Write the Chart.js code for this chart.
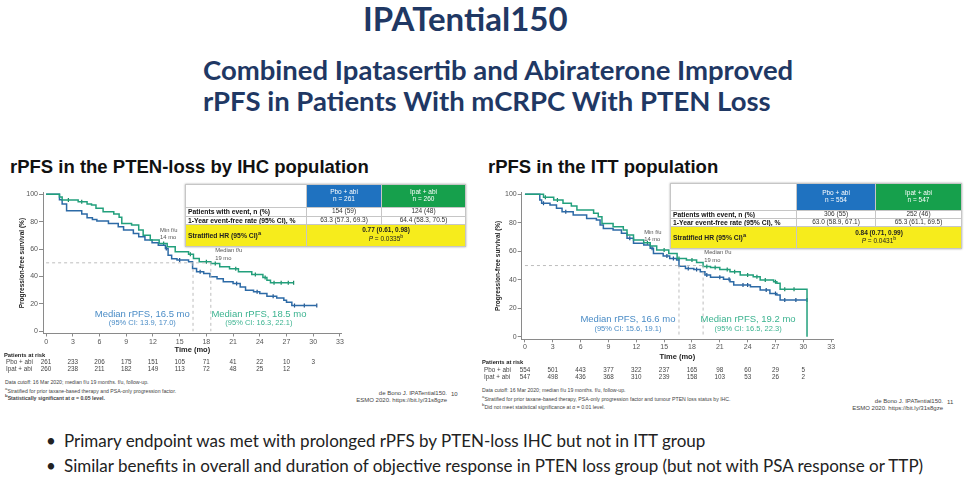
<!DOCTYPE html>
<html>
<head>
<meta charset="utf-8">
<script src="https://cdn.jsdelivr.net/npm/chart.js@4/dist/chart.umd.min.js"></script>
<style>
  body { margin: 0; width: 974px; height: 481px; background: #fff; position: relative; overflow: hidden;
         font-family: 'Liberation Sans', Arial, sans-serif; }
  .abs { position: absolute; white-space: nowrap; }
  .slideTitle { font-family: Lato, 'Open Sans', sans-serif; font-weight: bold; color: #1f3864; }
  .panelTitle { font-weight: bold; font-size: 18.5px; color: #111; }
  .bullet { font-family: Lato, 'Open Sans', sans-serif; font-size: 17px; color: #222; }
  .foot { font-size: 5.2px; color: #444; line-height: 6.5px; }
  .cite { font-size: 6px; color: #444; text-align: right; line-height: 7px; }
  table.km { position: absolute; border-collapse: collapse; table-layout: fixed; background: #fff;
             box-shadow: 0 0 2px rgba(0,0,0,.35); }
  table.km td { border: 1px solid #c6c6c6; padding: 0 2px; font-size: 6.5px; line-height: 1.05; color: #333;
                text-align: center; overflow: hidden; white-space: nowrap; }
  table.km td.lab { text-align: left; font-weight: bold; color: #111; font-size: 6.8px; }
  table.km td.pbo { background: #1f72c0; color: #fff; }
  table.km td.ipat { background: #16a04c; color: #fff; }
  table.km tr.hr td { background: #f6ec1c; color: #222; }
</style>
</head>
<body>
<div class="abs slideTitle" style="left:363px;top:-2px;font-size:33px;">IPATential150</div>
<div class="abs slideTitle" style="left:203px;top:54px;font-size:27.5px;line-height:31px;">Combined Ipatasertib and Abiraterone Improved<br>rPFS in Patients With mCRPC With PTEN Loss</div>

<div class="abs panelTitle" style="left:10px;top:156px;">rPFS in the PTEN-loss by IHC population</div>
<div class="abs panelTitle" style="left:488px;top:156px;">rPFS in the ITT population</div>

<div class="abs" style="left:0;top:186px;width:480px;height:190px;"><canvas id="ptenChart" width="480" height="190"></canvas></div>
<div class="abs" style="left:480px;top:186px;width:494px;height:195px;"><canvas id="ittChart" width="494" height="195"></canvas></div>

<table class="km" style="left:185px;top:184px;width:280px;">
  <colgroup><col style="width:121px"><col style="width:75px"><col style="width:84px"></colgroup>
  <tr style="height:23px"><td></td><td class="pbo">Pbo + abi<br>n = 261</td><td class="ipat">Ipat + abi<br>n = 260</td></tr>
  <tr style="height:8.5px"><td class="lab">Patients with event, n (%)</td><td>154 (59)</td><td>124 (48)</td></tr>
  <tr style="height:8.5px"><td class="lab">1-Year event-free rate (95% CI), %</td><td>63.3 (57.3, 69.3)</td><td>64.4 (58.3, 70.5)</td></tr>
  <tr class="hr" style="height:21.5px"><td class="lab">Stratified HR (95% CI)<sup>a</sup></td><td colspan="2"><b>0.77 (0.61, 0.98)</b><br><i>P</i> = 0.0335<sup>b</sup></td></tr>
</table>
<table class="km" style="left:670px;top:183px;width:291px;">
  <colgroup><col style="width:126px"><col style="width:79px"><col style="width:86px"></colgroup>
  <tr style="height:27px"><td></td><td class="pbo">Pbo + abi<br>n = 554</td><td class="ipat">Ipat + abi<br>n = 547</td></tr>
  <tr style="height:8.3px"><td class="lab">Patients with event, n (%)</td><td>306 (55)</td><td>252 (46)</td></tr>
  <tr style="height:7.7px"><td class="lab">1-Year event-free rate (95% CI), %</td><td>63.0 (58.9, 67.1)</td><td>65.3 (61.1, 69.5)</td></tr>
  <tr class="hr" style="height:21.3px"><td class="lab">Stratified HR (95% CI)<sup>a</sup></td><td colspan="2"><b>0.84 (0.71, 0.99)</b><br><i>P</i> = 0.0431<sup>b</sup></td></tr>
</table>

<div class="abs foot" style="left:5px;top:379px;">Data cutoff: 16 Mar 2020; median f/u 19 months. f/u, follow-up.<br><sup>a</sup>Stratified for prior taxane-based therapy and PSA-only progression factor.<br><b><sup>b</sup>Statistically significant at α = 0.05 level.</b></div>
<div class="abs foot" style="left:482px;top:387px;">Data cutoff: 16 Mar 2020; median f/u 19 months. f/u, follow-up.<br><sup>a</sup>Stratified for prior taxane-based therapy, PSA-only progression factor and tumour PTEN loss status by IHC.<br><sup>b</sup>Did not meet statistical significance at α = 0.01 level.</div>
<div class="abs cite" style="right:527px;top:390px;">de Bono J. IPATential150.<br>ESMO 2020. https://bit.ly/31s8gze</div>
<div class="abs cite" style="left:451px;top:391px;">10</div>
<div class="abs cite" style="right:31px;top:398px;">de Bono J. IPATential150.<br>ESMO 2020. https://bit.ly/31s8gze</div>
<div class="abs cite" style="left:947px;top:399px;">11</div>

<div class="abs bullet" style="left:46px;top:430px;">•</div>
<div class="abs bullet" style="left:64px;top:430px;">Primary endpoint was met with prolonged rPFS by PTEN-loss IHC but not in ITT group</div>
<div class="abs bullet" style="left:46px;top:455px;">•</div>
<div class="abs bullet" style="left:64px;top:455px;">Similar benefits in overall and duration of objective response in PTEN loss group (but not with PSA response or TTP)</div>

<script>
// axis ticks
const timeTicks = [0, 3, 6, 9, 12, 15, 18, 21, 24, 27, 30, 33];
const survTicks = [0, 20, 40, 60, 80, 100];

// PTEN-loss by IHC: Kaplan-Meier steps (month of drop, survival % after drop)
const ptenPboTime = [0, 1.5, 1.8, 2.3, 4.0, 4.6, 5.2, 5.7, 7.0, 8.1, 8.7, 9.8, 10.4, 11.1, 11.9, 12.6, 13.4, 13.7, 14.1, 14.7, 16.0, 16.45, 16.9, 17.7, 18.4, 19.2, 19.9, 21.0, 21.8, 22.4, 23.3, 24.0, 24.8, 25.9, 26.7, 27.0, 27.6, 30.4];
const ptenPboSurv = [100, 96, 93, 88, 85.6, 83, 81.7, 80.5, 78.8, 76.3, 73.9, 71.5, 69, 66.6, 64.6, 62.9, 60.5, 55.6, 53, 52, 50.7, 45.9, 43.4, 42.2, 39.8, 38.3, 36.1, 34.9, 32.4, 30, 28.8, 27.6, 25.6, 24.4, 22.7, 21.2, 18.8, 18.8];
const ptenIpatTime = [0, 1.5, 1.8, 3.6, 4.6, 5.1, 5.6, 6.4, 7.6, 8.2, 8.5, 9.6, 10.4, 10.9, 11.7, 12.7, 13.6, 14.5, 16.0, 16.55, 17.2, 18.5, 19.5, 20.6, 21.6, 23.1, 24.35, 24.8, 25.2, 27.8];
const ptenIpatSurv = [100, 98, 95.8, 94.6, 92.9, 92.2, 89.8, 87.3, 85.6, 83.2, 78.8, 77.6, 73.9, 70.2, 66.6, 64.1, 61.7, 58, 56.3, 53.2, 50.7, 49.5, 47.1, 45.6, 43.4, 41.5, 39.3, 37.3, 35.4, 35.4];
const ptenPboCensor = [13.5, 15.0, 17.3, 21.4, 23.7, 25.5, 27.9, 29.0, 30.4];
const ptenIpatCensor = [2.5, 4.0, 13.2, 16.2, 18.0, 19.0, 21.3, 23.5, 24.6, 25.6, 26.4, 27.2, 27.8];
const ptenMedians = [16.5, 18.5];
const ptenRiskPbo = [261, 233, 206, 175, 151, 105, 71, 41, 22, 10, 3];
const ptenRiskIpat = [260, 238, 211, 182, 149, 113, 72, 48, 25, 12];

// ITT population
const ittPboTime = [0, 1.6, 1.8, 2.7, 3.4, 4.0, 5.2, 6.65, 7.7, 8.1, 8.45, 9.5, 10.4, 11.0, 11.7, 12.8, 13.5, 13.85, 14.9, 15.6, 16.35, 16.6, 17.3, 18.2, 18.9, 19.4, 20.0, 21.4, 22.1, 22.5, 24.3, 25.35, 26.4, 27.15, 27.5, 30.4];
const ittPboSurv = [100, 96, 93.7, 92.5, 90.2, 87.8, 85.5, 83.1, 82, 78.5, 76.1, 75, 72.6, 69.1, 65.6, 64.4, 62.1, 58.5, 56.7, 55, 53.9, 49.5, 48, 47.3, 45.7, 43.3, 41.7, 40.3, 38.6, 36.3, 35.1, 32.8, 30.4, 29.3, 25.8, 25.8];
const ittIpatTime = [0, 2.0, 3.1, 4.1, 5.0, 5.6, 7.4, 7.9, 8.3, 9.5, 10.6, 11.0, 11.7, 12.8, 13.5, 14.2, 15.5, 16.4, 17.4, 18.5, 19.2, 20.0, 21.0, 22.1, 23.2, 24.6, 25.35, 26.8, 27.15, 27.5, 30.4];
const ittIpatSurv = [100, 97.9, 96, 93.7, 91.8, 89, 86.7, 84.3, 79.6, 77.3, 74.9, 71.4, 67.9, 66, 63.7, 60.9, 58.5, 55, 53.9, 52.2, 49.3, 48.7, 47.3, 45.7, 43.3, 42.2, 39.8, 38.6, 37.5, 33.3, 0];
const ittPboCensor = [2.0, 4.4, 11.3, 13.7, 15.3, 16.0, 17.6, 18.5, 19.6, 21.0, 22.0, 23.5, 24.0, 26.0, 27.0, 28.0, 29.2, 30.4];
const ittIpatCensor = [2.2, 3.5, 13.2, 15.0, 16.6, 18.0, 19.6, 20.5, 21.8, 22.6, 24.0, 25.0, 25.9, 27.0, 28.0, 29.0];
const ittMedians = [16.6, 19.2];
const ittRiskPbo = [554, 501, 443, 377, 322, 237, 165, 98, 60, 29, 5];
const ittRiskIpat = [547, 498, 436, 368, 310, 239, 158, 103, 53, 26, 2];

const BLUE = '#2c6aa6';
const GREEN = '#22a07c';
const BLUE_TXT = '#4a8cc6';
const GREEN_TXT = '#3cb390';
const FONT = "'Liberation Sans', Arial, sans-serif";

function steps(times, surv) {
  return times.map((t, i) => ({ x: t, y: surv[i] }));
}

// survival value at a censor time
function marks(times, surv, censor) {
  return censor.map(t => {
    let v = surv[0];
    times.forEach((tt, i) => { if (tt <= t) v = surv[i]; });
    return { x: t, y: v };
  });
}

const kmText = {
  id: 'kmText',
  afterDraw(chart, args, o) {
    const { ctx, scales: { x, y } } = chart;
    ctx.save();
    ctx.textBaseline = 'middle';
    o.notes.forEach(n => {
      ctx.font = n.font;
      ctx.fillStyle = n.color;
      ctx.textAlign = n.align;
      ctx.fillText(n.text, x.getPixelForValue(n.x), y.getPixelForValue(n.y));
    });
    ctx.fillStyle = '#222';
    ctx.textAlign = 'left';
    ctx.font = 'bold 5.8px ' + FONT;
    ctx.fillText('Patients at risk', o.riskLeft, o.riskTop);
    ctx.font = '6.3px ' + FONT;
    ctx.fillStyle = '#444';
    o.risk.forEach((row, r) => {
      const yy = o.riskTop + (r + 1) * o.riskGap;
      ctx.textAlign = 'left';
      ctx.fillText(row.label, o.riskLeft + 2, yy);
      ctx.textAlign = 'center';
      row.values.forEach((v, i) => ctx.fillText(String(v), x.getPixelForValue(timeTicks[i]), yy));
    });
    ctx.restore();
  }
};

function buildKm(id, d) {
  const ctx = document.getElementById(id).getContext('2d');
  const lastMedian = Math.max(...d.medians);
  const dashed = { borderColor: '#bdbdbd', borderWidth: 1, borderDash: [3, 3], pointRadius: 0 };
  return new Chart(ctx, {
    type: 'line',
    data: {
      datasets: [
        { ...dashed, data: [{ x: 0, y: 50 }, { x: lastMedian, y: 50 }] },
        ...d.medians.map(m => ({ ...dashed, data: [{ x: m, y: 50 }, { x: m, y: 0 }] })),
        { data: steps(d.ipatTime, d.ipatSurv), stepped: 'before', borderColor: GREEN, borderWidth: 1.5, pointRadius: 0 },
        { data: steps(d.pboTime, d.pboSurv), stepped: 'before', borderColor: BLUE, borderWidth: 1.5, pointRadius: 0 },
        { data: marks(d.ipatTime, d.ipatSurv, d.ipatCensor), showLine: false, pointStyle: 'line', rotation: 90,
          pointRadius: 2, borderWidth: 1.2, borderColor: '#17855f' },
        { data: marks(d.pboTime, d.pboSurv, d.pboCensor), showLine: false, pointStyle: 'line', rotation: 90,
          pointRadius: 2, borderWidth: 1.2, borderColor: '#1d4f88' },
      ],
    },
    options: {
      responsive: false,
      animation: false,
      events: [],
      layout: { padding: { left: 0, top: d.padTop, right: d.padRight, bottom: d.padBottom } },
      plugins: {
        legend: { display: false },
        tooltip: { enabled: false },
        kmText: d.text,
      },
      scales: {
        x: {
          type: 'linear', min: -0.35, max: 33.2,
          afterBuildTicks(s) { s.ticks = timeTicks.map(v => ({ value: v })); },
          afterFit(s) { s.height = d.xAxisHeight; },
          grid: { drawOnChartArea: false, drawTicks: true, tickLength: 3, color: '#8a8a8a' },
          border: { color: '#8a8a8a' },
          ticks: { font: { family: FONT, size: 7 }, color: '#555', padding: 1, maxRotation: 0 },
          title: { display: true, text: 'Time (mo)', color: '#222', padding: 0, font: { family: FONT, size: 7.5, weight: 'bold' } },
        },
        y: {
          type: 'linear', min: d.yMin, max: d.yMax,
          afterBuildTicks(s) { s.ticks = survTicks.map(v => ({ value: v })); },
          afterFit(s) { s.width = d.yAxisWidth; },
          grid: { drawOnChartArea: false, drawTicks: true, tickLength: 4, color: '#8a8a8a' },
          border: { color: '#8a8a8a' },
          ticks: { font: { family: FONT, size: 7 }, color: '#555', padding: 1 },
          title: { display: true, text: 'Progression-free survival (%)', color: '#222', padding: { top: d.yTitlePad, bottom: 0 },
                   font: { family: FONT, size: 6.5, weight: 'bold' } },
        },
      },
    },
    plugins: [kmText],
  });
}

function notes(medians, m, fu) {
  return [
    { text: 'Median rPFS, ' + medians[0] + ' mo', x: m.bx, y: m.y1, color: BLUE_TXT, font: '9.5px ' + FONT, align: 'center' },
    { text: m.bci, x: m.bx, y: m.y2, color: BLUE_TXT, font: '7.5px ' + FONT, align: 'center' },
    { text: 'Median rPFS, ' + medians[1] + ' mo', x: m.gx, y: m.y1, color: GREEN_TXT, font: '9.5px ' + FONT, align: 'center' },
    { text: m.gci, x: m.gx, y: m.y2, color: GREEN_TXT, font: '7.5px ' + FONT, align: 'center' },
    { text: 'Min f/u', x: fu.minX, y: fu.minY1, color: '#555', font: '5.8px ' + FONT, align: 'left' },
    { text: '14 mo', x: fu.minX, y: fu.minY2, color: '#555', font: '5.8px ' + FONT, align: 'left' },
    { text: 'Median f/u', x: fu.medX, y: fu.medY1, color: '#555', font: '5.8px ' + FONT, align: 'left' },
    { text: '19 mo', x: fu.medX, y: fu.medY2, color: '#555', font: '5.8px ' + FONT, align: 'left' },
  ];
}

buildKm('ptenChart', {
  pboTime: ptenPboTime, pboSurv: ptenPboSurv, ipatTime: ptenIpatTime, ipatSurv: ptenIpatSurv,
  pboCensor: ptenPboCensor, ipatCensor: ptenIpatCensor, medians: ptenMedians,
  yMin: -1.6, yMax: 101.2, padTop: 6.7, padRight: 138.3, padBottom: 21.2,
  xAxisHeight: 21.3, yAxisWidth: 43, yTitlePad: 18,
  text: {
    notes: notes(ptenMedians,
      { bx: 10.8, gx: 23.9, y1: 12.6, y2: 6, bci: '(95% CI: 13.9, 17.0)', gci: '(95% CI: 16.3, 22.1)' },
      { minX: 12.8, minY1: 73.4, minY2: 68.3, medX: 19.0, medY1: 58.8, medY2: 53.5 }),
    riskLeft: 4, riskTop: 169.7, riskGap: 7,
    risk: [{ label: 'Pbo + abi', values: ptenRiskPbo }, { label: 'Ipat + abi', values: ptenRiskIpat }],
  },
});

buildKm('ittChart', {
  pboTime: ittPboTime, pboSurv: ittPboSurv, ipatTime: ittIpatTime, ipatSurv: ittIpatSurv,
  pboCensor: ittPboCensor, ipatCensor: ittIpatCensor, medians: ittMedians,
  yMin: -1.8, yMax: 101.3, padTop: 6.5, padRight: 141, padBottom: 19.2,
  xAxisHeight: 22.5, yAxisWidth: 41.7, yTitlePad: 14.4,
  text: {
    notes: notes(ittMedians,
      { bx: 11.1, gx: 24.05, y1: 11.9, y2: 5.6, bci: '(95% CI: 15.6, 19.1)', gci: '(95% CI: 16.5, 22.3)' },
      { minX: 12.85, minY1: 73.3, minY2: 68.1, medX: 19.33, medY1: 59, medY2: 53.9 }),
    riskLeft: 2, riskTop: 176.3, riskGap: 7.5,
    risk: [{ label: 'Pbo + abi', values: ittRiskPbo }, { label: 'Ipat + abi', values: ittRiskIpat }],
  },
});
</script>
</body>
</html>
